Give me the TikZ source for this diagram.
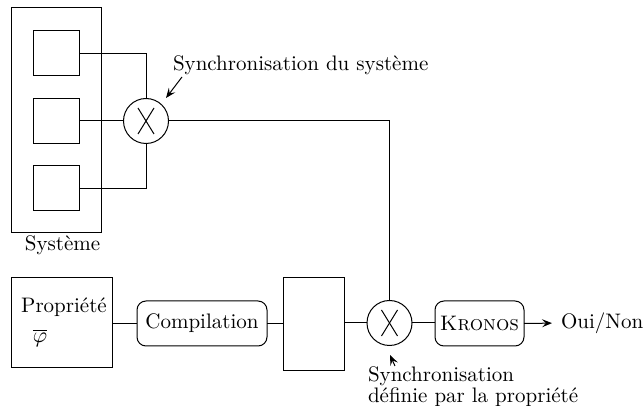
\documentclass[tikz,border=0pt]{standalone}
\usetikzlibrary{arrows.meta}
\begin{document}
\begin{tikzpicture}[x=0.5pt,y=-0.5pt,line width=0.5pt,
  font=\fontsize{10.5}{12.6}\selectfont,
  box/.style={draw,rectangle,inner sep=0pt,outer sep=0pt},
  rbox/.style={draw,rectangle,rounded corners=4.5pt,inner sep=0pt,outer sep=0pt,minimum width=#1,minimum height=22.5pt},
  sync/.style={draw,circle,inner sep=0pt,outer sep=0pt,minimum size=22.5pt},
  lbl/.style={inner sep=0pt,outer sep=0pt},
  arr/.style={-{Stealth[length=5pt,width=4pt,inset=2pt]}}]
\useasboundingbox (0,0) rectangle (644,406);
% system
\node[box,minimum width=45pt,minimum height=112.5pt] (sys) at (56,120.5) {};
\node[box,minimum width=23pt,minimum height=22.5pt] (b1) at (56,53.5) {};
\node[box,minimum width=23pt,minimum height=22.5pt] (b2) at (56,121) {};
\node[box,minimum width=23pt,minimum height=22.5pt] (b3) at (56,188.5) {};
\node[lbl] (syslbl) at (62.5,245) {Système};
\node[sync] (c1) at (146,121) {};
\draw ([shift={(-8,-13)}]c1.center) -- ([shift={(8,13)}]c1.center);
\draw ([shift={(-8,13)}]c1.center) -- ([shift={(8,-13)}]c1.center);
\draw (b1.east) -| (c1.north);
\draw (b2.east) -- (c1.west);
\draw (b3.east) -| (c1.south);
\node[lbl,anchor=west] (s1) at (173,65) {Synchronisation du système};
\coordinate (s1a) at (182,77);
\coordinate (s1b) at (166,98);
\draw[arr] (s1a) -- (s1b);
% lower row
\node[box,minimum width=50.5pt,minimum height=45pt] (prop) at (61.5,323) {};
\node[lbl] (proptxt) at (64,307.5) {Propriété};
\node[lbl] (phi) at (40,338) {$\overline{\varphi}$};
\node[rbox=65pt] (comp) at (202,323.5) {Compilation};
\node[box,minimum width=30.5pt,minimum height=46.5pt] (big) at (313.5,324.5) {};
\node[sync] (c2) at (389.5,323) {};
\draw ([shift={(-8,-13)}]c2.center) -- ([shift={(8,13)}]c2.center);
\draw ([shift={(-8,13)}]c2.center) -- ([shift={(8,-13)}]c2.center);
\node[rbox=44.5pt] (kr) at (479.5,323.5) {\textsc{Kronos}};
\node[lbl,anchor=west] (oui) at (561,323) {Oui/Non};
\draw (prop.east |- comp.west) -- (comp.west);
\draw (comp.east) -- (comp.east -| big.west);
\draw (big.east |- c2.west) -- (c2.west);
\draw (c2.east) -- (c2.east -| kr.west);
\draw[arr,shorten >=4.5pt] (kr.east) -- (oui.west);
\draw (c1.east) -| (c2.north);
\node[lbl,anchor=north west,align=left] (s2) at (368,367) {Synchronisation\\[-2.5pt]définie par la propriété};
\coordinate (s2a) at (395,366);
\coordinate (s2b) at (390,355);
\draw[arr] (s2a) -- (s2b);
\end{tikzpicture}
\end{document}
